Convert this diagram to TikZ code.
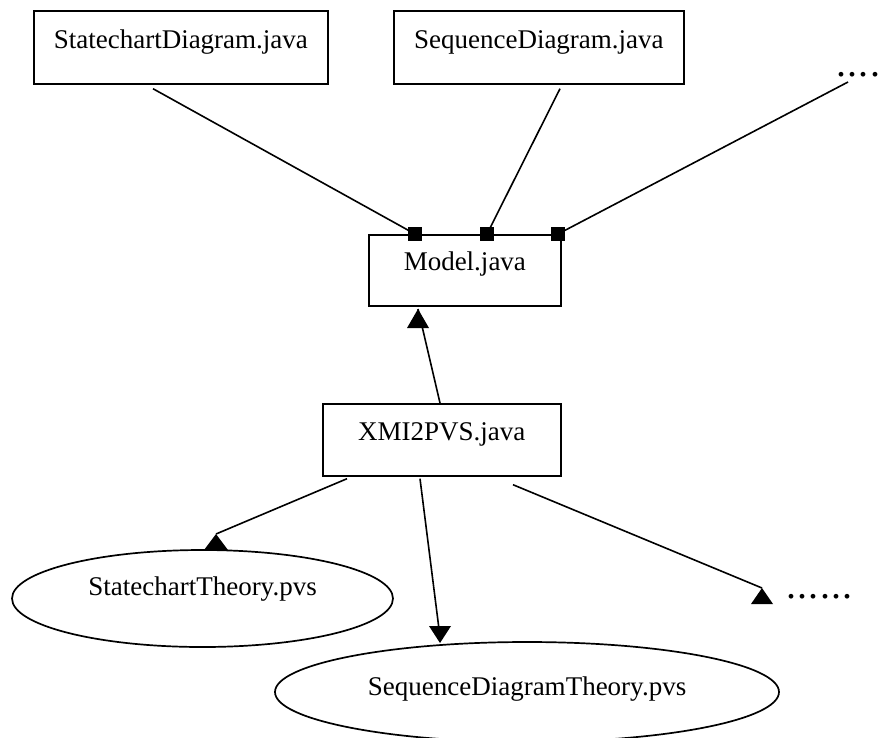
\documentclass[tikz,border=0pt]{standalone}
\usepackage{fontspec}
\setmainfont{Liberation Serif}
\usetikzlibrary{shapes.geometric}

% spaced-out run of dots
\newcommand{\dotrun}[1]{\foreach \k in {1,...,#1}{.\kern1.3pt}}

\begin{document}
\begin{tikzpicture}[x=1pt,y=-1pt,
  lbl/.style={font=\fontsize{27}{32}\selectfont, inner sep=0pt},
  filebox/.style={lbl, draw, line width=1.7pt, rectangle, anchor=north west},
  thyell/.style={lbl, draw, line width=1.7pt, ellipse},
  link/.style={line width=1.6pt},
  portdot/.style={fill, rectangle, minimum size=14pt, inner sep=0pt},
  etc/.style={font=\fontsize{40}{40}\selectfont, inner sep=0pt, anchor=base west}]

\clip (0,0) rectangle (882,737);
\fill[white] (0,0) rectangle (882,737);

% source files
\node[filebox, minimum width=294pt, minimum height=73pt, text height=38pt, text depth=35pt]
  (sd) at (33,10) {StatechartDiagram.java};
\node[filebox, minimum width=290pt, minimum height=73pt, text height=38pt, text depth=35pt]
  (qd) at (393,10) {SequenceDiagram.java};
\node[etc] (more1) at (836,76) {\dotrun{4}};

% model and translator
\node[filebox, minimum width=192pt, minimum height=71pt, text height=36pt, text depth=35pt]
  (model) at (368,234) {Model.java};
\node[filebox, minimum width=238pt, minimum height=72pt, text height=37pt, text depth=35pt]
  (xmi) at (322,403) {XMI2PVS.java};

% generated theories
\node[thyell, minimum width=381pt, minimum height=97pt, text height=18pt, text depth=25pt]
  (e1) at (202.5,598.5) {StatechartTheory.pvs};
\node[thyell, minimum width=504pt, minimum height=100pt, text height=21pt, text depth=15pt]
  (e2) at (527,692) {SequenceDiagramTheory.pvs};
\node[etc] (more2) at (786,598) {\dotrun{6}};

% ports on the model
\node[portdot] (d1) at ([xshift=47pt]model.north west) {};
\node[portdot] (d2) at ([xshift=119pt]model.north west) {};
\node[portdot] (d3) at ([xshift=190pt]model.north west) {};

\coordinate (l3) at (848,82);
\draw[link] ([xshift=120pt,yshift=-4pt]sd.south west) -- (d1.center);
\draw[link] ([xshift=167pt,yshift=-4pt]qd.south west) -- (d2.center);
\draw[link] (l3) -- (d3.center);

% translator outputs
\coordinate (t1) at (418,309);
\coordinate (t2) at (216,534);
\coordinate (t3) at (440,643);
\coordinate (t4) at (762,588);

\draw[link] ([xshift=118pt]xmi.north west) -- (t1);
\draw[link] ([xshift=25pt,yshift=-2pt]xmi.south west) -- (t2);
\draw[link] ([xshift=98pt,yshift=-2pt]xmi.south west) -- ([yshift=6pt]t3);
\draw[link] ([xshift=191pt,yshift=-8pt]xmi.south west) -- (t4);

\fill (t1) -- ++(-11,19) -- ++(22,0) -- cycle;
\fill (t2) -- ++(-12,16) -- ++(24,0) -- cycle;
\fill (t3) -- ++(-11,-17) -- ++(22,0) -- cycle;
\fill (t4) -- ++(-11,16) -- ++(22,0) -- cycle;
\end{tikzpicture}
\end{document}
